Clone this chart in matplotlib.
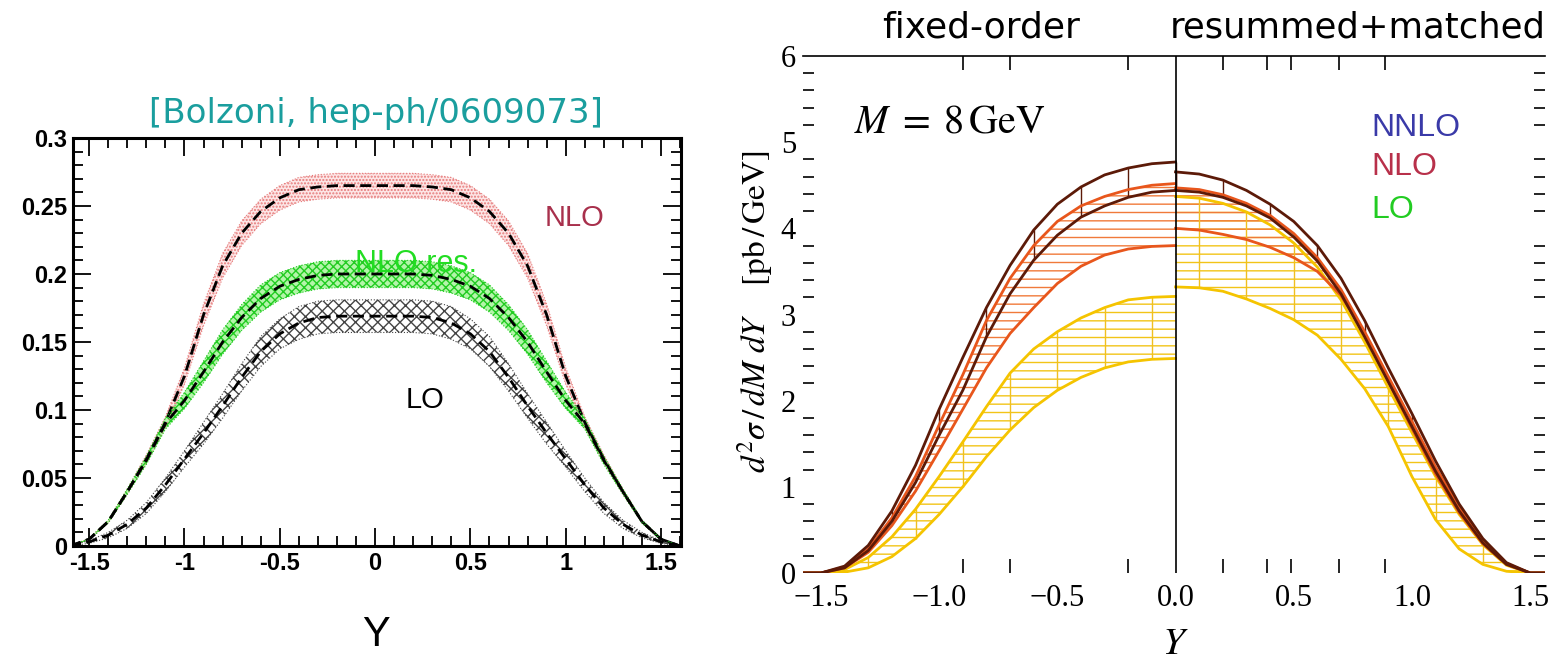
import numpy as np
import matplotlib
matplotlib.use('Agg')
import matplotlib.pyplot as plt

plt.rcParams['mathtext.fontset'] = 'stix'
plt.rcParams['hatch.linewidth'] = 1.0

# ---- left panel: Bolzoni, values vs |Y| (mirrored) ----
absY_l = [0.0, 0.1, 0.2, 0.3, 0.4, 0.5, 0.6, 0.7, 0.8, 0.9, 1.0, 1.1, 1.2, 1.3, 1.4, 1.5, 1.6]
nlo_c = [0.265, 0.265, 0.265, 0.264, 0.262, 0.256, 0.246, 0.230, 0.206, 0.170, 0.125, 0.091, 0.064, 0.040, 0.018, 0.005, 0.0]
nlo_w = [0.009, 0.009, 0.009, 0.009, 0.009, 0.009, 0.009, 0.009, 0.009, 0.008, 0.006, 0.004, 0.003, 0.002, 0.001, 0.0005, 0.0]
res_c = [0.200, 0.200, 0.200, 0.199, 0.196, 0.191, 0.182, 0.168, 0.150, 0.128, 0.107, 0.090, 0.063, 0.040, 0.018, 0.005, 0.0]
res_w = [0.010, 0.010, 0.010, 0.010, 0.010, 0.010, 0.010, 0.0095, 0.009, 0.008, 0.006, 0.004, 0.003, 0.002, 0.001, 0.0005, 0.0]
lo_c = [0.169, 0.169, 0.169, 0.168, 0.164, 0.156, 0.143, 0.124, 0.103, 0.083, 0.064, 0.045, 0.028, 0.016, 0.008, 0.003, 0.0]
lo_w = [0.012, 0.012, 0.012, 0.012, 0.012, 0.011, 0.011, 0.010, 0.009, 0.008, 0.006, 0.005, 0.004, 0.003, 0.002, 0.001, 0.0]

left_xticks = [-1.5, -1, -0.5, 0, 0.5, 1, 1.5]
left_xlabels = ['-1.5', '-1', '-0.5', '0', '0.5', '1', '1.5']
left_yticks = [0, 0.05, 0.1, 0.15, 0.2, 0.25, 0.3]
left_ylabels = ['0', '0.05', '0.1', '0.15', '0.2', '0.25', '0.3']

# ---- right panel: fixed-order (Y<0) and resummed+matched (Y>0), values vs |Y| ----
absY_r = [0.0, 0.1, 0.2, 0.3, 0.4, 0.5, 0.6, 0.7, 0.8, 0.9, 1.0, 1.1, 1.2, 1.3, 1.4, 1.5, 1.6]
fo_nnlo_hi = [4.77, 4.75, 4.70, 4.62, 4.48, 4.28, 3.98, 3.57, 3.08, 2.50, 1.90, 1.25, 0.72, 0.32, 0.08, 0.0, 0.0]
fo_nnlo_lo = [4.44, 4.42, 4.36, 4.26, 4.13, 3.92, 3.63, 3.24, 2.74, 2.12, 1.60, 1.05, 0.60, 0.26, 0.06, 0.0, 0.0]
fo_nlo_hi = [4.52, 4.50, 4.45, 4.37, 4.26, 4.08, 3.80, 3.42, 2.93, 2.30, 1.72, 1.12, 0.64, 0.28, 0.07, 0.0, 0.0]
fo_nlo_lo = [3.80, 3.79, 3.76, 3.69, 3.56, 3.36, 3.08, 2.78, 2.38, 1.90, 1.42, 0.95, 0.55, 0.24, 0.06, 0.0, 0.0]
fo_lo_hi = [3.21, 3.20, 3.17, 3.08, 2.96, 2.80, 2.60, 2.32, 1.93, 1.52, 1.12, 0.74, 0.42, 0.18, 0.04, 0.0, 0.0]
fo_lo_lo = [2.49, 2.48, 2.45, 2.38, 2.27, 2.12, 1.92, 1.66, 1.35, 1.00, 0.68, 0.40, 0.19, 0.06, 0.01, 0.0, 0.0]

rs_nnlo_hi = [4.655, 4.63, 4.56, 4.44, 4.28, 4.08, 3.80, 3.42, 2.93, 2.38, 1.85, 1.30, 0.80, 0.40, 0.12, 0.0, 0.0]
rs_nnlo_lo = [4.44, 4.42, 4.36, 4.26, 4.12, 3.90, 3.62, 3.24, 2.74, 2.22, 1.70, 1.18, 0.72, 0.35, 0.10, 0.0, 0.0]
rs_nlo_hi = [4.47, 4.45, 4.39, 4.29, 4.15, 3.94, 3.66, 3.29, 2.80, 2.28, 1.76, 1.23, 0.76, 0.38, 0.11, 0.0, 0.0]
rs_nlo_lo = [4.00, 3.98, 3.93, 3.87, 3.78, 3.66, 3.50, 3.22, 2.78, 2.22, 1.68, 1.15, 0.70, 0.34, 0.10, 0.0, 0.0]
rs_lo_hi = [4.37, 4.35, 4.29, 4.19, 4.04, 3.83, 3.55, 3.17, 2.68, 2.15, 1.63, 1.12, 0.68, 0.33, 0.09, 0.0, 0.0]
rs_lo_lo = [3.32, 3.31, 3.27, 3.18, 3.07, 2.94, 2.76, 2.48, 2.14, 1.70, 1.12, 0.62, 0.28, 0.10, 0.02, 0.0, 0.0]

right_xticks = [-1.5, -1.0, -0.5, 0.0, 0.5, 1.0, 1.5]
right_xlabels = ['\u22121.5', '\u22121.0', '\u22120.5', '0.0', '0.5', '1.0', '1.5']
right_minor_x = [-0.9, -0.7, -0.2, 0.2, 0.385, 0.49, 0.69, 0.885]
right_yticks = [0, 1, 2, 3, 4, 5, 6]


def mirror(a, v):
    a = np.asarray(a)
    v = np.asarray(v)
    return np.concatenate([-a[::-1], a[1:]]), np.concatenate([v[::-1], v[1:]])


fig = plt.figure(figsize=(15.5, 6.6), dpi=100)

# ================= left panel =================
ax = fig.add_axes([73/1550, 1-546/660, 608/1550, 408/660])

bands = [
    (nlo_c, nlo_w, '#fde6e6', '#e67a7a', '.....'),
    (res_c, res_w, '#b4f5aa', '#22cc22', 'xxxx'),
    (lo_c, lo_w, 'white', '#444444', 'xxx'),
]
for c, w, fc, hc, hatch in bands:
    x, yc = mirror(absY_l, c)
    _, yw = mirror(absY_l, w)
    ax.fill_between(x, yc - yw, yc + yw, facecolor=fc, edgecolor=hc, hatch=hatch, linewidth=0)
    ax.plot(x, yc + yw, color=hc, lw=0.8, ls=':')
    ax.plot(x, yc - yw, color=hc, lw=0.8, ls=':')
    ax.plot(x, yc, color='black', lw=2.0, ls=(0, (4, 2)))

ax.set_xlim(-1.585, 1.605)
ax.set_ylim(0, 0.3)
ax.set_xticks(left_xticks)
ax.set_xticklabels(left_xlabels)
ax.set_yticks(left_yticks)
ax.set_yticklabels(left_ylabels)
ax.set_xticks(np.arange(-1.5, 1.61, 0.1), minor=True)
ax.set_yticks(np.arange(0, 0.301, 0.01), minor=True)
ax.tick_params(which='both', direction='in', top=True, right=True, width=1.3)
ax.tick_params(which='major', length=13, pad=4)
ax.tick_params(which='minor', length=7)
for lab in ax.get_xticklabels() + ax.get_yticklabels():
    lab.set_fontfamily('Liberation Sans')
    lab.set_fontweight('bold')
    lab.set_fontsize(17)
for s in ax.spines.values():
    s.set_linewidth(2.2)

ax.text(1.045, 0.241, 'NLO', color='#a8304c', fontsize=21, family='Liberation Sans', ha='center', va='center')
ax.text(0.215, 0.207, 'NLO res.', color='#22dd22', fontsize=22, family='Liberation Sans', ha='center', va='center')
ax.text(0.26, 0.107, 'LO', color='black', fontsize=21, family='Liberation Sans', ha='center', va='center')

fig.text(376/1550, 1-114/660, '[Bolzoni, hep-ph/0609073]', color='#1a9e9e', fontsize=24.5,
         family='DejaVu Sans', ha='center', va='center')
fig.text(376/1550, 1-635/660, 'Y', fontsize=30, family='Liberation Sans', ha='center', va='center')

# ================= right panel =================
bx = fig.add_axes([803/1550, 1-573/660, 742/1550, 517/660])

c_nnlo = '#5c1a08'
c_nlo = '#e8561c'
c_lo = '#f5c400'

for sign, hi_n, lo_n, hi_m, lo_m, hi_l, lo_l in [
        (-1, fo_nnlo_hi, fo_nnlo_lo, fo_nlo_hi, fo_nlo_lo, fo_lo_hi, fo_lo_lo),
        (1, rs_nnlo_hi, rs_nnlo_lo, rs_nlo_hi, rs_nlo_lo, rs_lo_hi, rs_lo_lo)]:
    x = sign * np.asarray(absY_r)
    # LO band: horizontal + sparse vertical lines
    bx.fill_between(x, lo_l, hi_l, facecolor='none', edgecolor='#f2c418', hatch='--', linewidth=0)
    bx.vlines(x[1:14:2], np.asarray(lo_l)[1:14:2], np.asarray(hi_l)[1:14:2], color='#f0c020', lw=1)
    # NLO band: horizontal lines
    bx.fill_between(x, lo_m, hi_m, facecolor='none', edgecolor='#f07a3a', hatch='--', linewidth=0)
    # NNLO band: vertical lines
    bx.vlines(x[0:15:2], np.asarray(lo_n)[0:15:2], np.asarray(hi_n)[0:15:2], color=c_nnlo, lw=1)
    bx.plot(x, hi_l, color=c_lo, lw=2)
    bx.plot(x, lo_l, color=c_lo, lw=2)
    bx.plot(x, hi_m, color=c_nlo, lw=2)
    bx.plot(x, lo_m, color=c_nlo, lw=2)
    bx.plot(x, hi_n, color=c_nnlo, lw=2)
    bx.plot(x, lo_n, color=c_nnlo, lw=2)

bx.axvline(0, color='black', lw=1.2)
bx.set_xlim(-1.576, 1.563)
bx.set_ylim(0, 6)
for side in ['left', 'right', 'bottom']:
    bx.spines[side].set_visible(False)
bx.spines['top'].set_linewidth(1.2)

bx.set_xticks(right_xticks)
bx.set_xticklabels(right_xlabels)
bx.set_xticks(right_minor_x, minor=True)
bx.set_yticks(right_yticks)
bx.set_yticks([v for v in np.arange(0.2, 6.0, 0.2) if abs(v - round(v)) > 0.05], minor=True)
bx.tick_params(which='major', length=0)
bx.tick_params(axis='x', which='major', pad=8)
bx.tick_params(axis='y', which='major', pad=5)
bx.tick_params(axis='x', which='minor', direction='in', top=True, bottom=True, length=10, width=1.2)
bx.tick_params(axis='y', which='minor', direction='in', left=True, right=True, length=8, width=1.2)
for lab in bx.get_xticklabels() + bx.get_yticklabels():
    lab.set_fontfamily('Liberation Serif')
    lab.set_fontsize(22)

bx.text(-0.954, 5.24, r'$M\;=\;8\,\mathrm{GeV}$', fontsize=29, ha='center', va='center')
bx.text(0.827, 5.17, 'NNLO', color='#3a3aa8', fontsize=23, family='Liberation Sans', ha='left', va='center')
bx.text(0.827, 4.71, 'NLO', color='#b8304a', fontsize=23, family='Liberation Sans', ha='left', va='center')
bx.text(0.827, 4.21, 'LO', color='#22cc22', fontsize=23, family='Liberation Sans', ha='left', va='center')

fig.text(755/1550, 1-312/660, r'$d^2\sigma\,/\,dM\ dY\quad\ [\mathrm{pb}\,/\,\mathrm{GeV}]$', fontsize=24,
         rotation=90, ha='center', va='center')
fig.text(1175/1550, 1-643/660, r'$Y$', fontsize=28, ha='center', va='center')
fig.text(981/1550, 1-27/660, 'fixed-order', fontsize=26, family='DejaVu Sans', ha='center', va='center')
fig.text(1358/1550, 1-27/660, 'resummed+matched', fontsize=25.5, family='DejaVu Sans', ha='center', va='center')

fig.savefig('out.png', dpi=100)
